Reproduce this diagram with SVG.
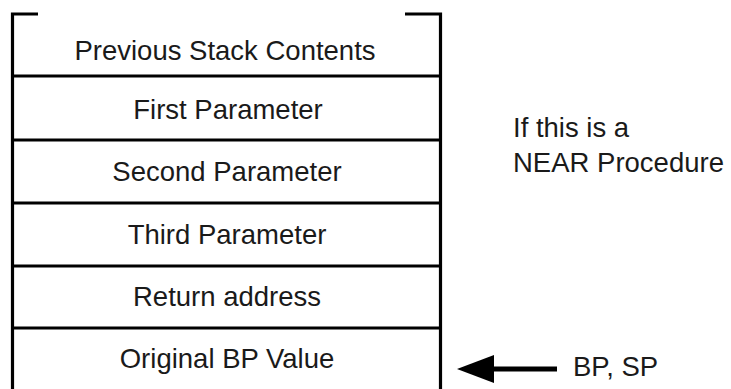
<svg xmlns="http://www.w3.org/2000/svg" width="731" height="389" viewBox="0 0 731 389">
<style>
.ln{stroke:#000;stroke-width:3.2;fill:none}
.t{font-family:"Liberation Sans",Arial,sans-serif;font-size:27.5px;fill:#1a1a1a}
.c{text-anchor:middle}
</style>
<rect width="731" height="389" fill="#fff"/>
<g id="frame">
<path class="ln" d="M12.5 389V14H38"/>
<path class="ln" d="M405 14H440.5V389"/>
</g>
<g id="row1"><text class="t c" x="225" y="60">Previous Stack Contents</text></g>
<g id="row2"><line class="ln" x1="12.5" y1="76" x2="440.5" y2="76"/><text class="t c" x="228" y="119">First Parameter</text></g>
<g id="row3"><line class="ln" x1="12.5" y1="140" x2="440.5" y2="140"/><text class="t c" x="227" y="181">Second Parameter</text></g>
<g id="row4"><line class="ln" x1="12.5" y1="203" x2="440.5" y2="203"/><text class="t c" x="227" y="244">Third Parameter</text></g>
<g id="row5"><line class="ln" x1="12.5" y1="266" x2="440.5" y2="266"/><text class="t c" x="227" y="306">Return address</text></g>
<g id="row6"><line class="ln" x1="12.5" y1="328" x2="440.5" y2="328"/><text class="t c" x="227" y="368">Original BP Value</text></g>
<g id="note"><text class="t" x="513" y="137">If this is a</text><text class="t" x="513" y="172">NEAR Procedure</text></g>
<g id="connectors">
<line x1="490" y1="369" x2="557" y2="369" stroke="#000" stroke-width="5"/>
<polygon points="457,369 494,355 494,383" fill="#000"/>
</g>
<g id="pointer"><text class="t" x="573" y="376">BP, SP</text></g>
</svg>
